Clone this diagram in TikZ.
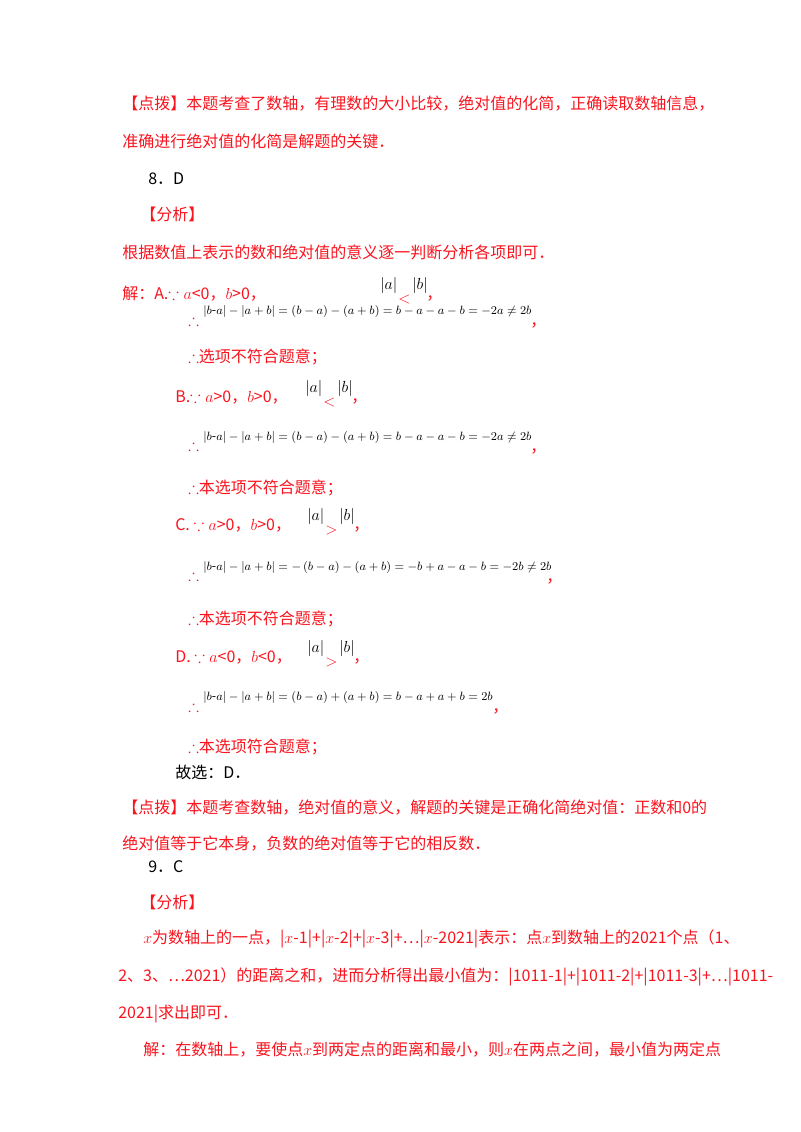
\documentclass[tikz,border=0pt]{standalone}
\usepackage{amsmath,amssymb}
\usepackage{fontspec}
\setmainfont{Noto Sans CJK SC}
\definecolor{rd}{RGB}{250,20,30}
\newcommand{\fA}{\left|b\text{-}a\right|-\left|a+b\right|=\left(b-a\right)-\left(a+b\right)=b-a-a-b=-2a\neq 2b}
\newcommand{\fC}{\left|b\text{-}a\right|-\left|a+b\right|=-\left(b-a\right)-\left(a+b\right)=-b+a-a-b=-2b\neq 2b}
\newcommand{\fD}{\left|b\text{-}a\right|-\left|a+b\right|=\left(b-a\right)+\left(a+b\right)=b-a+a+b=2b}
\begin{document}
\begin{tikzpicture}[x=0.75pt,y=-0.75pt,
  t/.style={anchor=base west,inner sep=0pt,font=\fontsize{12pt}{14pt}\selectfont,text=rd},
  k/.style={t,text=black},
  m/.style={anchor=west,inner sep=0pt,font=\fontsize{12pt}{14pt}\selectfont,text=black},
  fm/.style={anchor=west,inner sep=0pt,font=\fontsize{9.3pt}{11pt}\selectfont,text=black}]
\useasboundingbox[fill=white] (0,0) rectangle (800,1132);
\node[t] (l1) at (122,109) {【点拨】本题考查了数轴，有理数的大小比较，绝对值的化简，正确读取数轴信息，};
\node[t] (l2) at (122,147) {准确进行绝对值的化简是解题的关键．};
\node[k] (l3) at (148,184) {8．D};
\node[t] (l4) at (140,220) {【分析】};
\node[t] (l5) at (122,258) {根据数值上表示的数和绝对值的意义逐一判断分析各项即可．};
\node[t] (a1) at (122,299) {解：A.$\because a$<0，$b$>0，};
\node[m] (a2) at (380,285) {$|a|$}; \node[t] (a3) at (398,303) {$<$}; \node[m] (a4) at (412,285) {$|b|$}; \node[t] at (426,299) {，};
\node[t] (a5) at (188,325) {$\therefore$}; \node[fm] (a6) at (203,311) {$\fA$}; \node[t] at (530,326) {，};
\node[t] (a7) at (188,362) {$\therefore$选项不符合题意；};
\node[t] (b1) at (175,402) {B.$\because a$>0，$b$>0，};
\node[m] (b2) at (305,388) {$|a|$}; \node[t] at (323,406) {$<$}; \node[m] at (337,388) {$|b|$}; \node[t] at (351,402) {，};
\node[t] (b5) at (188,450) {$\therefore$}; \node[fm] (b6) at (203,437) {$\fA$}; \node[t] at (530,452) {，};
\node[t] (b7) at (188,493) {$\therefore$本选项不符合题意；};
\node[t] (c1) at (175,530) {C. $\because a$>0，$b$>0，};
\node[m] (c2) at (307,516) {$|a|$}; \node[t] at (325,534) {$>$}; \node[m] at (339,516) {$|b|$}; \node[t] at (353,530) {，};
\node[t] (c5) at (188,580) {$\therefore$}; \node[fm] (c6) at (203,567) {$\fC$}; \node[t] at (546,582) {，};
\node[t] (c7) at (188,624) {$\therefore$本选项不符合题意；};
\node[t] (d1) at (175,662) {D. $\because a$<0，$b$<0，};
\node[m] (d2) at (307,648) {$|a|$}; \node[t] at (325,666) {$>$}; \node[m] at (339,648) {$|b|$}; \node[t] at (353,662) {，};
\node[t] (d5) at (188,711) {$\therefore$}; \node[fm] (d6) at (203,697) {$\fD$}; \node[t] at (492,712) {，};
\node[t] (d7) at (188,752) {$\therefore$本选项符合题意；};
\node[k] (d8) at (175,778) {故选：D．};
\node[t] (e1) at (122,813) {【点拨】本题考查数轴，绝对值的意义，解题的关键是正确化简绝对值：正数和0的};
\node[t] (e2) at (122,849) {绝对值等于它本身，负数的绝对值等于它的相反数．};
\node[k] (e3) at (148,872) {9．C};
\node[t] (e4) at (140,908) {【分析】};
\node[t] (e5) at (143,943) {$x$为数轴上的一点，|$x$-1|+|$x$-2|+|$x$-3|+…|$x$-2021|表示：点$x$到数轴上的2021个点（1、};
\node[t] (e6) at (118,981) {2、3、⋯2021）的距离之和，进而分析得出最小值为：|1011-1|+|1011-2|+|1011-3|+…|1011-};
\node[t] (e7) at (118,1018) {2021|求出即可．};
\node[t] (e8) at (143,1055) {解：在数轴上，要使点$x$到两定点的距离和最小，则$x$在两点之间，最小值为两定点};
\end{tikzpicture}
\end{document}
